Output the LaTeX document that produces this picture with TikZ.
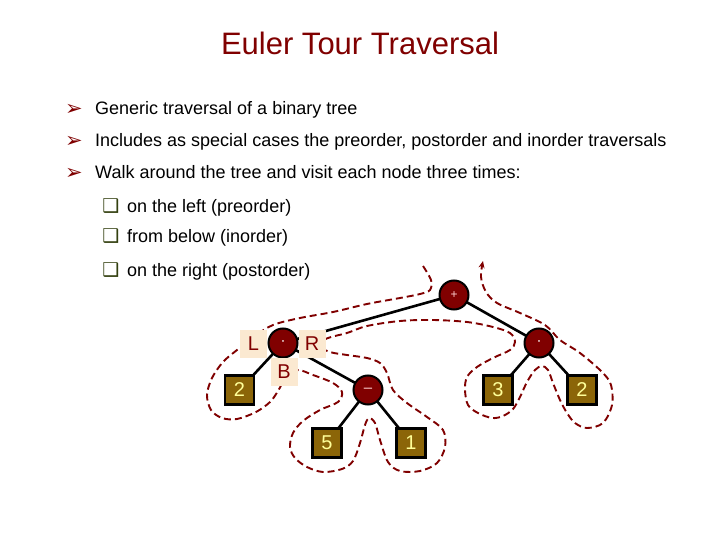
\documentclass[tikz,border=0pt]{standalone}
\usepackage{fontspec}
\setmainfont{Liberation Sans}
\newfontfamily\symfont{DejaVu Sans}
\usetikzlibrary{arrows.meta}
\definecolor{maroon}{HTML}{800000}
\definecolor{leafbrown}{HTML}{8B6508}
\definecolor{leaftext}{HTML}{FFFF99}
\definecolor{peach}{HTML}{FBE9D1}
\definecolor{boxgreen}{HTML}{334010}
\definecolor{pinkish}{HTML}{FFD0D0}
\begin{document}
\begin{tikzpicture}[x=1pt,y=-1pt,
  titletext/.style={anchor=base, inner sep=0, text=maroon, font=\fontsize{31}{36}\selectfont},
  bodytext/.style={anchor=base west, inner sep=0, font=\fontsize{18}{22}\selectfont},
  arrowbullet/.style={anchor=base, inner sep=0, text=maroon, font=\symfont\bfseries\fontsize{21}{24}\selectfont},
  boxbullet/.style={anchor=base, inner sep=0, text=boxgreen, font=\symfont\bfseries\fontsize{19}{22}\selectfont},
  innernode/.style={circle, draw=black, line width=2pt, fill=maroon, minimum size=29pt, inner sep=0, text=pinkish, font=\fontsize{15}{18}\selectfont},
  leafnode/.style={rectangle, draw=black, line width=2.5pt, fill=leafbrown, minimum size=29pt, inner sep=0, text=leaftext, font=\fontsize{20}{24}\selectfont},
  sidelabel/.style={rectangle, fill=peach, minimum width=27pt, minimum height=28pt, inner sep=0, text=maroon, font=\fontsize{20}{24}\selectfont},
  treeedge/.style={line width=2.6pt, black},
  tour/.style={maroon, line width=1.9pt, dash pattern=on 7pt off 4pt, line cap=butt}
]
\useasboundingbox[fill=white] (0,0) rectangle (720,540);

% title
\node[titletext] (title) at (360,55) {Euler Tour Traversal};

% bullets
\node[arrowbullet] (b1) at (74,116) {➢};
\node[bodytext] (t1) at (95,115) {Generic traversal of a binary tree};
\node[arrowbullet] (b2) at (74,148) {➢};
\node[bodytext] (t2) at (95,147) {Includes as special cases the preorder, postorder and inorder traversals};
\node[arrowbullet] (b3) at (74,180) {➢};
\node[bodytext] (t3) at (95,179) {Walk around the tree and visit each node three times:};
\node[boxbullet] (s1b) at (111,212) {❑};
\node[bodytext] (s1) at (127,212) {on the left (preorder)};
\node[boxbullet] (s2b) at (111,243) {❑};
\node[bodytext] (s2) at (127,243) {from below (inorder)};
\node[boxbullet] (s3b) at (111,276) {❑};
\node[bodytext] (s3) at (127,276) {on the right (postorder)};

% tour path
\draw[tour, -{Stealth[length=7pt,width=6pt]}] plot[smooth, tension=0.55] coordinates {
 (423,266) (431,280) (430,290) (420,294) (400,298) (367,304) (333,312) (300,318) (273,325)
 (255,336) (237,350) (223,362) (212,378) (207,395) (211,410) (222,418) (237,419) (256,412)
 (270,402) (278,391) (285,379) (297,370) (313,375) (333,383) (342,392) (338,402) (320,410)
 (303,421) (293,433) (290,447) (295,458) (307,467) (323,472) (342,469) (353,461) (360,443)
 (365,425) (369,418) (375,423) (380,440) (388,462) (400,471) (420,471) (437,463) (445,447)
 (443,430) (427,417) (407,403) (393,390) (387,373) (380,363) (367,358) (347,355) (330,352)
 (317,345) (328,338) (347,333) (367,326) (400,321) (433,320) (467,322) (493,327) (510,333)
 (515,342) (510,350) (493,358) (477,367) (467,377) (465,390) (468,405) (478,413) (492,418)
 (503,416) (513,409) (520,397) (527,382) (535,370) (542,366) (548,370) (553,383) (560,400)
 (567,413) (575,423) (587,428) (603,423) (612,405) (611,385) (602,372) (580,353) (560,340)
 (545,325) (520,313) (497,303) (486,292) (481,277) (483,261)};

% tree nodes
\coordinate (cplus) at (454,295);
\coordinate (cleft) at (283,343);
\coordinate (cright) at (539,343);
\coordinate (cminus) at (368,390);
\draw[treeedge] (cplus) -- (cleft);
\draw[treeedge] (cplus) -- (cright);
\draw[treeedge] (cleft) -- (239.5,390) coordinate (cl2);
\draw[treeedge] (cleft) -- (cminus);
\draw[treeedge] (cminus) -- (327,443) coordinate (cl5);
\draw[treeedge] (cminus) -- (411,443) coordinate (cl1);
\draw[treeedge] (cright) -- (498,390) coordinate (cl3);
\draw[treeedge] (cright) -- (582,390) coordinate (cr2);

\node[innernode] (plus) at (cplus) {\fontsize{12}{14}\selectfont +};
\node[innernode] (left) at (cleft) {\textcolor{white}{·}};
\node[innernode] (right) at (cright) {\textcolor{white}{·}};
\node[innernode] (minus) at (cminus) {–};
\node[leafnode] (leaf2a) at (cl2) {2};
\node[leafnode] (leaf5) at (cl5) {5};
\node[leafnode] (leaf1) at (cl1) {1};
\node[leafnode] (leaf3) at (cl3) {3};
\node[leafnode] (leaf2b) at (cr2) {2};

% side labels
\node[sidelabel] (labL) at (253.5,344) {L};
\node[sidelabel] (labR) at (312,344) {R};
\node[sidelabel] (labB) at (284,371.5) {B};
\end{tikzpicture}
\end{document}
